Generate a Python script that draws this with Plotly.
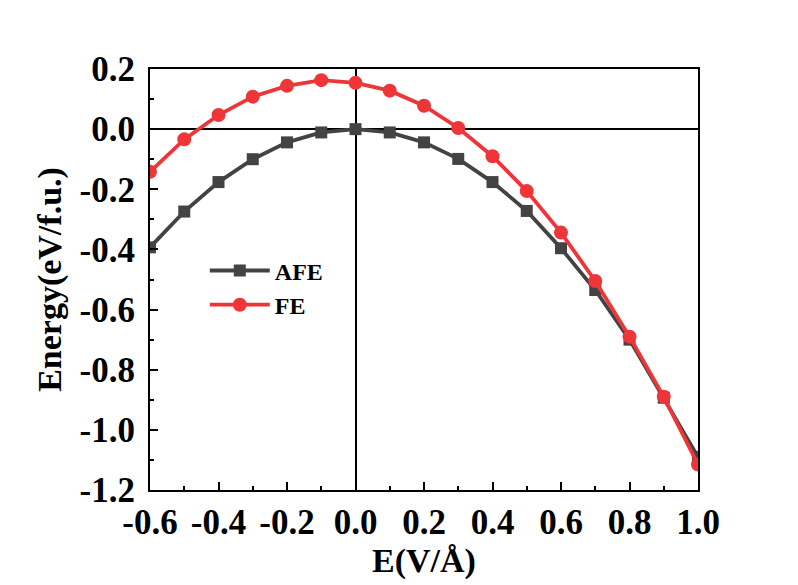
import plotly.graph_objects as go

E = [-0.6, -0.5, -0.4, -0.3, -0.2, -0.1, 0.0, 0.1, 0.2, 0.3, 0.4, 0.5, 0.6, 0.7, 0.8, 0.9, 1.0]
AFE = [-0.393, -0.274, -0.176, -0.100, -0.044, -0.011, 0.0, -0.011, -0.044, -0.099, -0.176, -0.272, -0.396, -0.535, -0.700, -0.893, -1.090]
FE = [-0.142, -0.034, 0.047, 0.108, 0.144, 0.163, 0.154, 0.128, 0.078, 0.004, -0.090, -0.206, -0.344, -0.505, -0.690, -0.890, -1.115]

x_ticks = [-0.6, -0.4, -0.2, 0.0, 0.2, 0.4, 0.6, 0.8, 1.0]
y_ticks = [0.2, 0.0, -0.2, -0.4, -0.6, -0.8, -1.0, -1.2]

FONT = "Liberation Serif"
tick_font = dict(family=FONT, size=35, color="black", weight="bold")
title_font = dict(family=FONT, size=34, color="black", weight="bold")

fig = go.Figure()
fig.add_trace(go.Scatter(x=E, y=AFE, name="AFE", mode="lines+markers",
                         line=dict(color="#434343", width=3.8),
                         marker=dict(symbol="square", size=12, color="#434343")))
fig.add_trace(go.Scatter(x=E, y=FE, name="FE", mode="lines+markers",
                         line=dict(color="#EE3538", width=3.8),
                         marker=dict(symbol="circle", size=14, color="#EE3538")))

axis_common = dict(showline=True, linecolor="black", linewidth=2, mirror=True,
                   ticks="inside", ticklen=8, tickwidth=2, tickcolor="black",
                   showgrid=False, zeroline=True, zerolinecolor="black", zerolinewidth=2,
                   tickfont=tick_font)

fig.update_xaxes(range=[-0.6, 1.0], tickvals=x_ticks,
                 ticktext=[f"{v:.1f}" for v in x_ticks],
                 minor=dict(ticks="inside", ticklen=4, tickwidth=2, tickcolor="black", dtick=0.1),
                 title=dict(text="E(V/Å)", font=title_font, standoff=4),
                 ticklabelstandoff=0,
                 **axis_common)
fig.update_yaxes(range=[-1.2, 0.2], tickvals=y_ticks,
                 ticktext=[f"{v:.1f}" for v in y_ticks],
                 minor=dict(ticks="inside", ticklen=4, tickwidth=2, tickcolor="black", dtick=0.1),
                 title=dict(text="Energy(eV/f.u.)", font=title_font, standoff=8),
                 ticklabelstandoff=6,
                 **axis_common)

fig.update_layout(
    width=798, height=585,
    margin=dict(l=142, r=108, t=61, b=103, autoexpand=False),
    paper_bgcolor="white", plot_bgcolor="white",
    font=dict(family=FONT, color="black"),
    legend=dict(x=0.10, y=0.48, xanchor="left", yanchor="middle",
                bgcolor="rgba(0,0,0,0)", font=dict(family=FONT, size=24, color="black", weight="bold"),
                itemwidth=60, tracegroupgap=0),
)

fig.write_html("out.html")
